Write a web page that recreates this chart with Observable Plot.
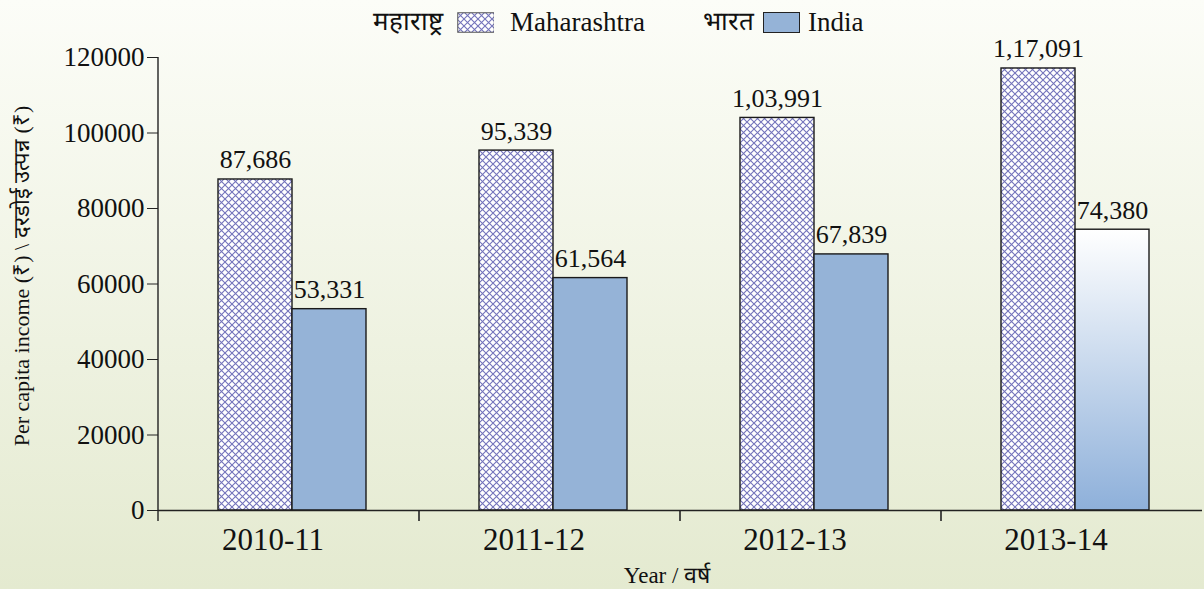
<!DOCTYPE html>
<html>
<head>
<meta charset="utf-8">
<script src="https://cdn.jsdelivr.net/npm/d3@7"></script>
<script src="https://cdn.jsdelivr.net/npm/@observablehq/plot@0.6"></script>
<style>
  html, body { margin: 0; padding: 0; }
  body {
    width: 1204px; height: 589px; overflow: hidden; position: relative;
    background: linear-gradient(to bottom, #fcfdf8 0%, #e4ead0 100%);
    font-family: "Liberation Serif", "Times New Roman", serif;
    color: #111;
  }
  #legend { position: relative; height: 45px; }
  #legend .t { position: absolute; top: 0; line-height: 44px; font-size: 27px; white-space: nowrap; }
  #legend .hi { font-weight: normal; font-size: 26px; }
  #legend .sw { position: absolute; top: 12px; width: 37px; height: 21px; box-sizing: border-box; border: 1.5px solid #222; }
  #chart svg { display: block; background: transparent; overflow: visible; }
  .ylab { position: absolute; left: 20px; top: 276px; transform: translate(-50%, -50%) rotate(-90deg); font-size: 22px; white-space: nowrap; }
  .xlab { position: absolute; left: 667px; top: 574px; transform: translate(-50%, -50%); font-size: 23px; white-space: nowrap; }
</style>
</head>
<body>
<div id="legend">
  <span class="t hi" style="left:373px">महाराष्ट्र</span>
  <svg class="sw" style="left:457px;border:none" width="38" height="21"><rect x="0.75" y="0.75" width="36.5" height="19.5" fill="url(#hatchL)" stroke="#555" stroke-width="1"/>
    <defs><pattern id="hatchL" patternUnits="userSpaceOnUse" width="7" height="7"><rect width="7" height="7" fill="#fff"/><path d="M-1,-1L8,8M8,-1L-1,8" stroke="#7373bb" stroke-width="1.1"/></pattern></defs></svg>
  <span class="t" style="left:510px">Maharashtra</span>
  <span class="t hi" style="left:703px">भारत</span>
  <div class="sw" style="left:763px;background:#95b3d7"></div>
  <span class="t" style="left:808px">India</span>
</div>
<div id="chart"></div>
<div class="ylab">Per capita income (₹) \ दरडोई उत्पन्न (₹)</div>
<div class="xlab">Year / वर्ष</div>
<script>
const years = ["2010-11", "2011-12", "2012-13", "2013-14"];
const series = ["Maharashtra", "India"];
const maharashtra = [87686, 95339, 103991, 117091];
const india = [53331, 61564, 67839, 74380];
const maharashtraLabels = ["87,686", "95,339", "1,03,991", "1,17,091"];
const indiaLabels = ["53,331", "61,564", "67,839", "74,380"];
const yTicks = [0, 20000, 40000, 60000, 80000, 100000, 120000];

const rows = [];
years.forEach((yr, i) => {
  rows.push({year: yr, series: "Maharashtra", value: maharashtra[i], label: maharashtraLabels[i], fill: "url(#hatch)"});
  rows.push({year: yr, series: "India", value: india[i], label: indiaLabels[i], fill: i === years.length - 1 ? "url(#indiaGrad)" : "#95b3d7"});
});

const chart = Plot.plot({
  width: 1204,
  height: 544,
  marginTop: 12,
  marginBottom: 79,
  marginLeft: 157,
  marginRight: 1,
  style: {background: "transparent", overflow: "visible", fontFamily: "'Liberation Serif', 'Times New Roman', serif", color: "#111"},
  fx: {domain: years, padding: 0, label: null},
  x: {domain: series, paddingInner: 0, paddingOuter: 0.76, align: 0.53, axis: null},
  y: {domain: [0, 120000], label: null},
  color: {type: "identity"},
  marks: [
    Plot.barY(rows, {fx: "year", x: "series", y: "value", fill: "fill", stroke: "#1a1a1a", strokeWidth: 1.4}),
    Plot.text(rows, {fx: "year", x: "series", y: "value", text: "label", lineAnchor: "bottom", dy: -11, fontSize: 26, fill: "#111"}),
    Plot.ruleY([0], {stroke: "#222", strokeWidth: 1.4}),
    Plot.axisY({ticks: yTicks, tickFormat: d => String(d), tickSize: 11, tickPadding: 3, fontSize: 27, label: null, stroke: "#222"}),
    Plot.axisFx({anchor: "bottom", tickSize: 0, tickPadding: 17, fontSize: 31, dx: -16, label: null})
  ]
});

const svg = d3.select(chart);
const defs = svg.insert("defs", ":first-child");
const pat = defs.append("pattern").attr("id", "hatch").attr("patternUnits", "userSpaceOnUse").attr("width", 7).attr("height", 7);
pat.append("rect").attr("width", 7).attr("height", 7).attr("fill", "#fff");
pat.append("path").attr("d", "M-1,-1L8,8M8,-1L-1,8").attr("stroke", "#7373bb").attr("stroke-width", 1.1);
const grad = defs.append("linearGradient").attr("id", "indiaGrad").attr("x1", 0).attr("y1", 0).attr("x2", 0).attr("y2", 1);
grad.append("stop").attr("offset", "0%").attr("stop-color", "#ffffff");
grad.append("stop").attr("offset", "100%").attr("stop-color", "#8eb0da");

// axis lines and group-boundary ticks using the plot's own scales
const fx = chart.scale("fx");
const y = chart.scale("y");
const y0 = y.apply(0);
const x0 = fx.apply(years[0]);
svg.append("line").attr("x1", x0).attr("x2", x0).attr("y1", y.apply(120000)).attr("y2", y0 + 11)
  .attr("stroke", "#222").attr("stroke-width", 1.4);
years.slice(1).forEach(yr => {
  const xb = fx.apply(yr);
  svg.append("line").attr("x1", xb).attr("x2", xb).attr("y1", y0).attr("y2", y0 + 11)
    .attr("stroke", "#222").attr("stroke-width", 1.6);
});

document.getElementById("chart").appendChild(chart);
</script>
</body>
</html>
